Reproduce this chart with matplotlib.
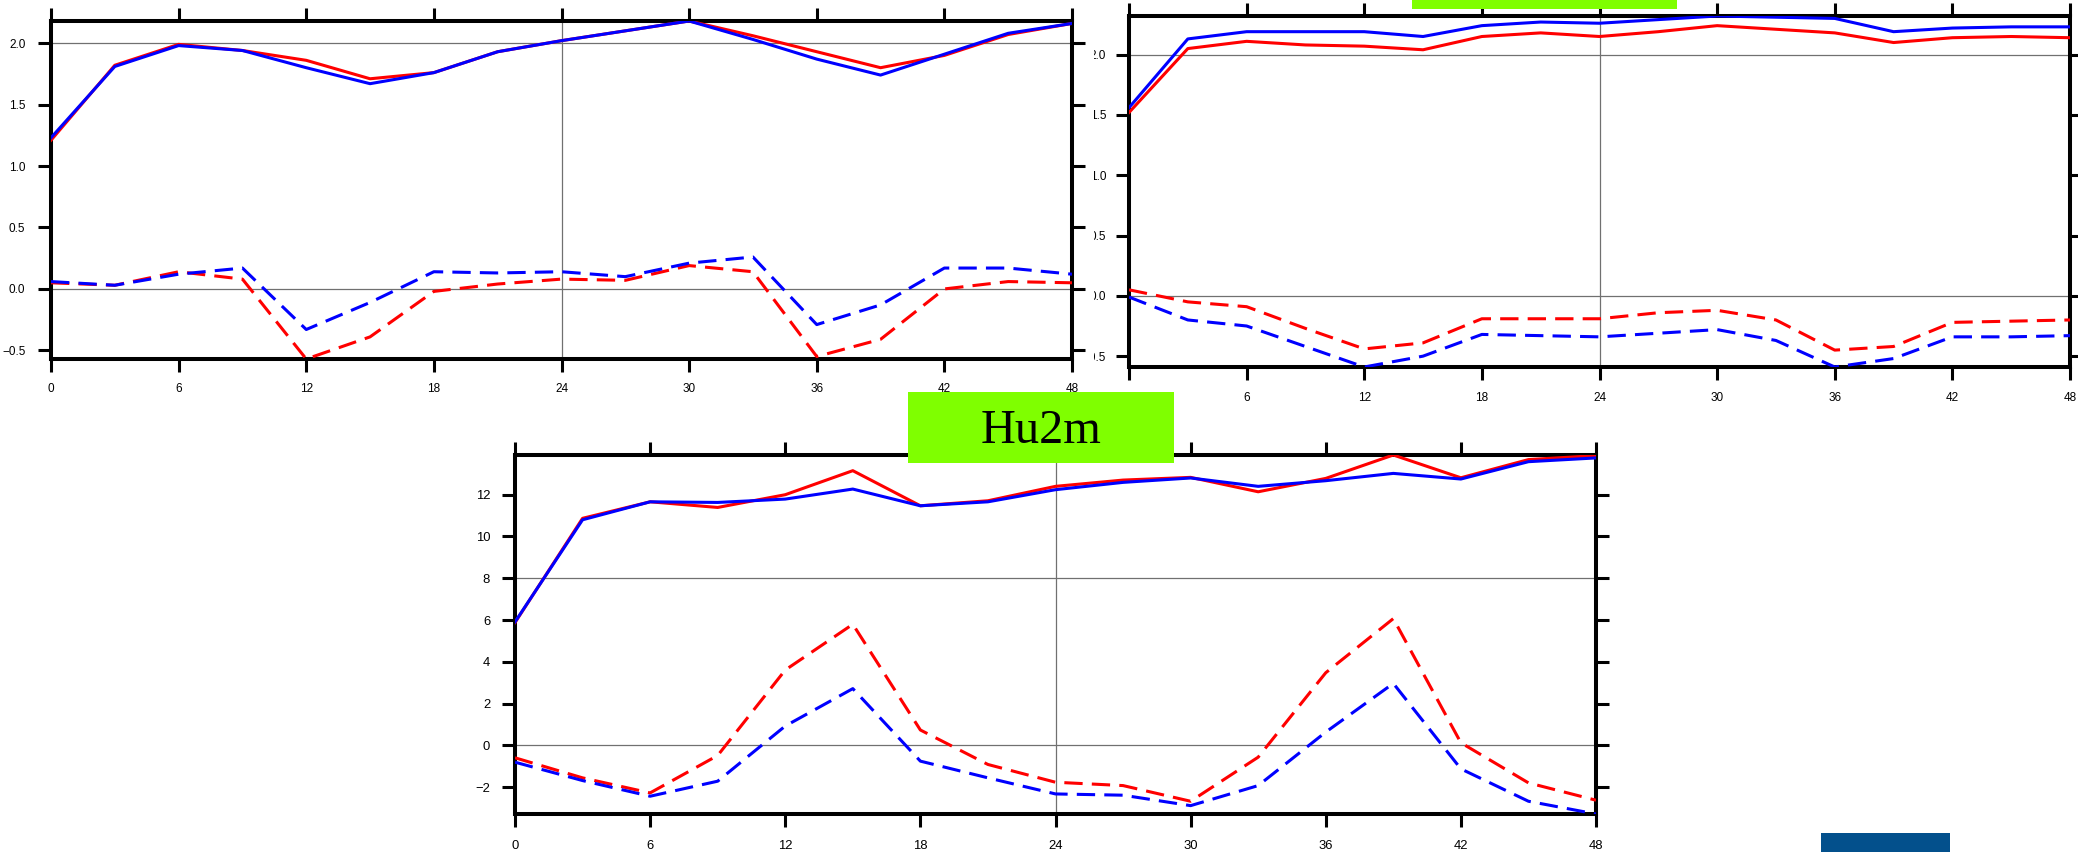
import matplotlib
matplotlib.use("Agg")
import matplotlib.pyplot as plt
from matplotlib.patches import Rectangle
from matplotlib.transforms import Bbox, TransformedBbox

# forecast hours
hours = [0, 3, 6, 9, 12, 15, 18, 21, 24, 27, 30, 33, 36, 39, 42, 45, 48]

# upper-left panel
p1_red = [1.21, 1.82, 1.99, 1.94, 1.86, 1.71, 1.76, 1.93, 2.02, 2.10, 2.18, 2.06, 1.93, 1.80, 1.90, 2.07, 2.16]
p1_blue = [1.23, 1.81, 1.98, 1.94, 1.80, 1.67, 1.76, 1.93, 2.02, 2.10, 2.18, 2.03, 1.87, 1.74, 1.91, 2.08, 2.16]
p1_red_dash = [0.05, 0.03, 0.14, 0.08, -0.57, -0.39, -0.02, 0.04, 0.08, 0.07, 0.19, 0.14, -0.55, -0.41, 0.00, 0.06, 0.05]
p1_blue_dash = [0.06, 0.03, 0.12, 0.17, -0.33, -0.11, 0.14, 0.13, 0.14, 0.10, 0.21, 0.26, -0.29, -0.13, 0.17, 0.17, 0.12]

# upper-right panel
p2_red = [1.52, 2.05, 2.11, 2.08, 2.07, 2.04, 2.15, 2.18, 2.15, 2.19, 2.24, 2.21, 2.18, 2.10, 2.14, 2.15, 2.14]
p2_blue = [1.56, 2.13, 2.19, 2.19, 2.19, 2.15, 2.24, 2.27, 2.26, 2.29, 2.32, 2.31, 2.30, 2.19, 2.22, 2.23, 2.23]
p2_red_dash = [0.05, -0.05, -0.09, -0.27, -0.44, -0.39, -0.19, -0.19, -0.19, -0.14, -0.12, -0.20, -0.45, -0.42, -0.22, -0.21, -0.20]
p2_blue_dash = [-0.01, -0.20, -0.25, -0.42, -0.59, -0.50, -0.32, -0.33, -0.34, -0.31, -0.28, -0.37, -0.59, -0.52, -0.34, -0.34, -0.33]

# Hu2m panel
p3_red = [5.88, 10.87, 11.66, 11.39, 12.00, 13.15, 11.47, 11.71, 12.40, 12.70, 12.83, 12.14, 12.78, 13.90, 12.81, 13.68, 13.87]
p3_blue = [5.91, 10.80, 11.66, 11.63, 11.79, 12.27, 11.47, 11.66, 12.24, 12.59, 12.80, 12.40, 12.67, 13.02, 12.75, 13.58, 13.76]
p3_red_dash = [-0.59, -1.55, -2.27, -0.48, 3.61, 5.80, 0.74, -0.91, -1.76, -1.92, -2.67, -0.56, 3.48, 6.07, 0.13, -1.79, -2.62]
p3_blue_dash = [-0.80, -1.68, -2.43, -1.71, 0.93, 2.72, -0.75, -1.55, -2.32, -2.38, -2.88, -1.92, 0.64, 2.97, -1.12, -2.67, -3.28]

xticks = list(range(0, 49, 6))
yticks_small = [-0.5, 0.0, 0.5, 1.0, 1.5, 2.0]
yticks_hu = [-2, 0, 2, 4, 6, 8, 10, 12]

W, H = 2078, 852
fig = plt.figure(figsize=(W / 100, H / 100), dpi=100)
plt.rcParams["font.family"] = ["Liberation Sans", "DejaVu Sans"]


def box(x0, y0, x1, y1):
    # pixel box (top-left origin) -> figure fraction rect
    return [x0 / W, 1 - y1 / H, (x1 - x0) / W, (y1 - y0) / H]


def panel(rect, red, blue, red_dash, blue_dash, yticks, fmt, refs, fs, xpad, ypad):
    ax = fig.add_axes(rect)
    for r in refs:
        ax.axhline(r, color="#707070", lw=0.9, zorder=1)
    ax.axvline(24, color="#707070", lw=0.9, zorder=1)
    ax.plot(hours, red, color="red", lw=2.2, zorder=3)
    ax.plot(hours, blue, color="blue", lw=2.2, zorder=3)
    ax.plot(hours, red_dash, color="red", lw=2.2, dashes=(6, 3), zorder=3)
    ax.plot(hours, blue_dash, color="blue", lw=2.2, dashes=(6, 3), zorder=3)
    allv = red + blue + red_dash + blue_dash
    ax.set_xlim(0, 48)
    ax.set_ylim(min(allv), max(allv))
    ax.set_xticks(xticks)
    ax.set_xticklabels([str(v) for v in xticks])
    ax.set_yticks(yticks)
    ax.set_yticklabels([fmt.format(v).replace("-", "\u2212") for v in yticks])
    ax.tick_params(direction="out", length=9.4, width=2.2, top=True, right=True,
                   labelsize=fs, colors="black")
    ax.tick_params(axis="x", pad=xpad)
    ax.tick_params(axis="y", pad=ypad)
    for s in ax.spines.values():
        s.set_linewidth(2.9)
    return ax


ax1 = panel(box(51, 21, 1072, 359), p1_red, p1_blue, p1_red_dash, p1_blue_dash,
            yticks_small, "{:.1f}", [0.0, 2.0], 8.5, 8.0, 9.0)
ax2 = panel(box(1129, 16, 2070, 367), p2_red, p2_blue, p2_red_dash, p2_blue_dash,
            yticks_small, "{:.1f}", [0.0, 2.0], 8.5, 8.5, 7.0)
ax3 = panel(box(515, 455, 1596, 814), p3_red, p3_blue, p3_red_dash, p3_blue_dash,
            yticks_hu, "{:d}", [0, 8], 9.4, 9.0, 8.5)

# the right-hand panel's y labels are cut where its frame area begins
cut = TransformedBbox(Bbox([[1094 / W, 0], [1, 1]]), fig.transFigure)
for lab in ax2.get_yticklabels():
    lab.set_clip_on(True)
    lab.set_clip_box(cut)

# title boxes
fig.add_artist(Rectangle((1412 / W, 1 - 9 / H), 265 / W, 30 / H,
                         transform=fig.transFigure, facecolor="#7fff00",
                         edgecolor="none", zorder=6))
fig.add_artist(Rectangle((908 / W, 1 - 463 / H), 266 / W, 71 / H,
                         transform=fig.transFigure, facecolor="#7fff00",
                         edgecolor="none", zorder=6))
fig.text(1041 / W, 1 - 443 / H, "Hu2m", ha="center", va="baseline",
         fontsize=34.8, family="Liberation Serif", color="black", zorder=7)

fig.add_artist(Rectangle((1821 / W, 0), 129 / W, 19 / H,
                         transform=fig.transFigure, facecolor="#03508c",
                         edgecolor="none", zorder=6))

fig.savefig("out.png", dpi=100)
